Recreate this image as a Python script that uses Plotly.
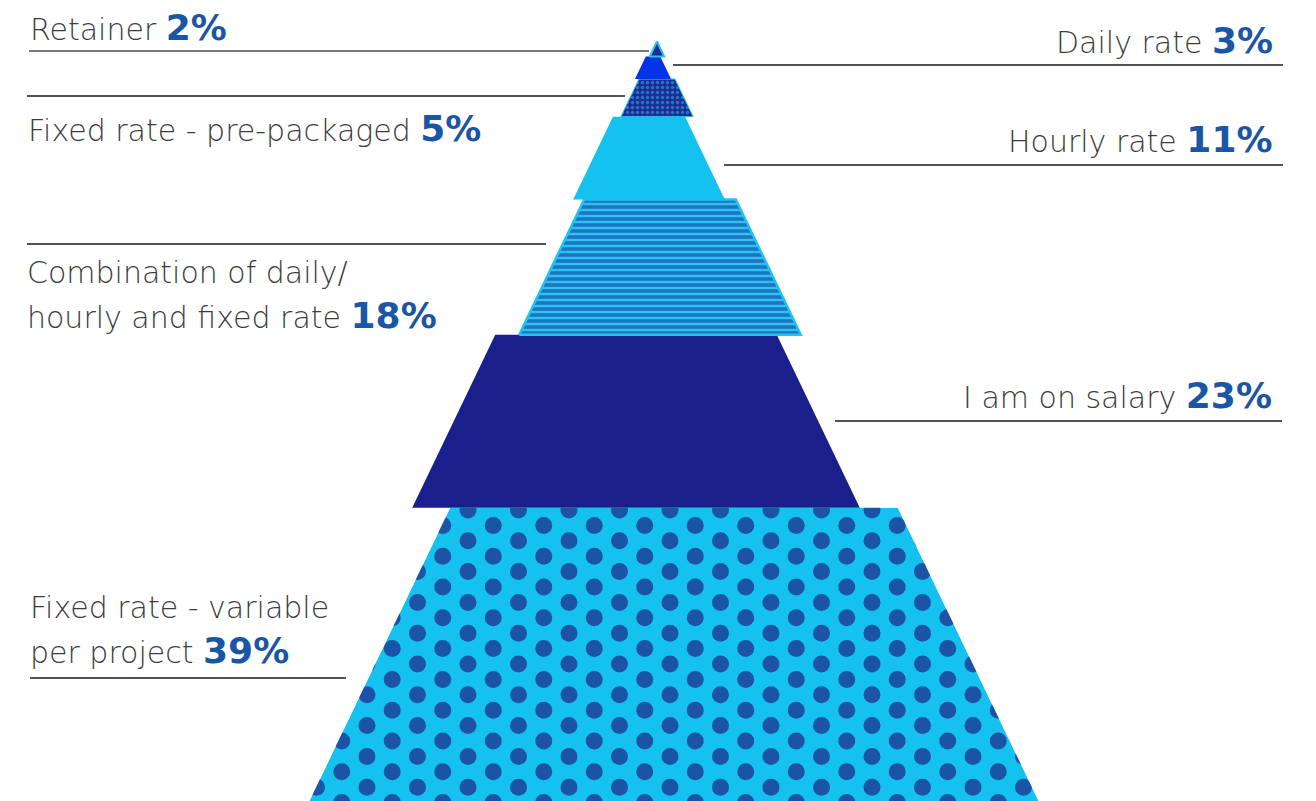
import numpy as np
import plotly.graph_objects as go

# Survey shares, listed from the base of the pyramid to its tip
categories = [
    "Fixed rate - variable\nper project",
    "I am on salary",
    "Combination of daily/\nhourly and fixed rate",
    "Hourly rate",
    "Fixed rate - pre-packaged",
    "Daily rate",
    "Retainer",
]
shares = [39, 23, 18, 11, 5, 3, 2]

# ---- geometry -------------------------------------------------------------
W, H = 1316, 801
PX_PER_PCT = 7.52          # vertical pixels per percentage point
SLOPE = 0.48               # horizontal half-width growth per vertical pixel
HALF_PER_PCT = PX_PER_PCT * SLOPE
TOTAL = sum(shares)

# horizontal centre of each tier (pixels), base to tip
tier_centres = [674, 636, 660, 649, 657, 653, 657]

CYAN = "#14c1ef"
NAVY = "#1a1f8b"
DEEP = "#1f2b93"
BLUE = "#0533e8"
DOT = "#1b54a6"
PCT_COLOR = "#1b55a5"
TEXT_COLOR = "#3c3c3c"
FONT = "DejaVu Sans"
FONT_SIZE = 30
PCT_SIZE = 36


def ydata(py):
    """Screen-pixel row -> data y (percentage points from the base)."""
    return (H - py) / PX_PER_PCT


def half_width(v):
    return (TOTAL - v) * HALF_PER_PCT


bounds = np.concatenate([[0], np.cumsum(shares)])

fig = go.Figure()


def tier_polygon(i):
    v0, v1 = bounds[i], bounds[i + 1]
    c = tier_centres[i]
    xs = [c - half_width(v0), c + half_width(v0), c + half_width(v1), c - half_width(v1), c - half_width(v0)]
    ys = [v0, v0, v1, v1, v0]
    return xs, ys


def add_tier(i, **style):
    xs, ys = tier_polygon(i)
    line = style.pop("line", dict(width=0, color="rgba(0,0,0,0)"))
    fig.add_trace(go.Scatter(x=xs, y=ys, mode="lines", fill="toself", line=line,
                             hoverinfo="skip", showlegend=False, **style))


# base tier: cyan with a staggered grid of dark dots
add_tier(0, fillcolor=CYAN)

c0 = tier_centres[0]
v_top = bounds[1]
dot_x, dot_y = [], []
row_gap, col_gap = 15.4, 50.5
for r in range(0, 22):
    py = 510 + r * row_gap
    shift = 0 if r % 2 == 0 else -col_gap / 2
    for k in range(-20, 20):
        px = 468 + shift + k * col_gap
        v = ydata(py)
        if abs(px - c0) <= half_width(v) + 10:
            dot_x.append(px)
            dot_y.append(v)
fig.add_trace(go.Scatter(x=dot_x, y=dot_y, mode="markers",
                         marker=dict(size=17, color=DOT, line=dict(width=0)),
                         hoverinfo="skip", showlegend=False))

# white collar trimming the dots to the base tier's outline
xl0, xr0 = c0 - half_width(0), c0 + half_width(0)
xl1, xr1 = c0 - half_width(v_top), c0 + half_width(v_top)
pad = 24
lift = 12 / PX_PER_PCT
fig.add_trace(go.Scatter(
    x=[xl0 - pad, xl0, xl1, xr1, xr0, xr0 + pad, xr1 + pad, xl1 - pad, xl0 - pad],
    y=[0, 0, v_top, v_top, 0, 0, v_top + lift, v_top + lift, 0],
    mode="lines", fill="toself", fillcolor="white", line=dict(width=0, color="white"),
    hoverinfo="skip", showlegend=False))

# remaining tiers
add_tier(1, fillcolor=NAVY)
add_tier(2, fillcolor=CYAN, line=dict(width=2.5, color="#22c3f0"),
         fillpattern=dict(shape="-", bgcolor="#27c4f0", fgcolor="#1a2190", size=6, solidity=0.6))
add_tier(3, fillcolor=CYAN)
add_tier(4, fillcolor=DEEP, line=dict(width=1, color="#22c3f0"),
         fillpattern=dict(shape=".", bgcolor=DEEP, fgcolor="#22c3f0", size=5, solidity=0.35))
add_tier(5, fillcolor=BLUE)
add_tier(6, fillcolor=DEEP, line=dict(width=2, color="#22c3f0"))

# ---- labels and leader rules ---------------------------------------------
# side, anchor x, first-line y, rule (x0, x1, y), rule colour, rule width
label_layout = [
    ("left", 28, 607, (30, 346, 678), "#1a1a1a", 1.3),
    ("right", 1274, 395, (835, 1282, 421), "#1a1a1a", 1.3),
    ("left", 25, 272, (27, 546, 244), "#1a1a1a", 1.3),
    ("right", 1275, 139, (724, 1283, 165), "#1a1a1a", 1.3),
    ("left", 26, 128, (27, 625, 96), "#1a1a1a", 1.3),
    ("right", 1275, 40, (673, 1283, 65), "#1a1a1a", 1.3),
    ("left", 28, 27, (29, 649, 51), "#7a7a7a", 2),
]
LINE_GAP = 43

for name, share, (side, ax, ay, rule, rcol, rw) in zip(categories, shares, label_layout):
    lines = name.split("\n")
    for j, text in enumerate(lines):
        if j == len(lines) - 1:
            text = (f"{text} <b><span style='color:{PCT_COLOR};font-size:{PCT_SIZE}px'>"
                    f"{share}%</span></b>")
        fig.add_annotation(
            x=ax, y=ydata(ay + j * LINE_GAP), xref="x", yref="y",
            text=text, showarrow=False,
            xanchor="left" if side == "left" else "right", yanchor="middle",
            align=side,
            font=dict(family=FONT, size=FONT_SIZE, color=TEXT_COLOR, weight=200),
        )
    x0, x1, ry = rule
    fig.add_shape(type="line", x0=x0, x1=x1, y0=ydata(ry), y1=ydata(ry),
                  xref="x", yref="y", line=dict(color=rcol, width=rw))

fig.update_layout(
    width=W, height=H,
    margin=dict(l=0, r=0, t=0, b=0),
    paper_bgcolor="white", plot_bgcolor="white",
    xaxis=dict(range=[0, W], visible=False, fixedrange=True),
    yaxis=dict(range=[0, H / PX_PER_PCT], visible=False, fixedrange=True),
    showlegend=False,
)

fig.write_html("out.html")
